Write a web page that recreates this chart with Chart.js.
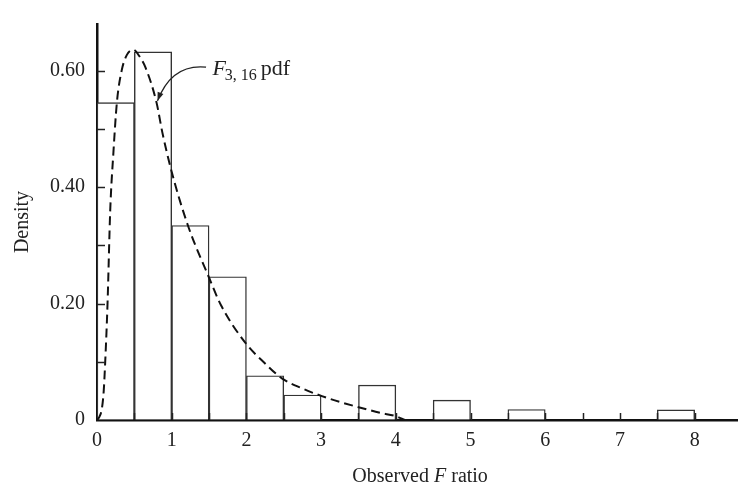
<!DOCTYPE html>
<html lang="en">
<head>
    <meta charset="UTF-8">
    <title>Observed F ratio histogram</title>
    <script src="https://cdn.jsdelivr.net/npm/chart.js"></script>
    <style>
        body { margin: 0; background: #fff; }
        #wrap { width: 741px; height: 489px; position: relative; }
    </style>
</head>
<body>
    <div id="wrap"><canvas id="fChart"></canvas></div>

    <script>
        // histogram bins (left edges, width 0.5) and their densities
        const binStarts = [0, 0.5, 1, 1.5, 2, 2.5, 3, 3.5, 4, 4.5, 5, 5.5, 6, 6.5, 7, 7.5];
        const densities = [0.545, 0.632, 0.334, 0.246, 0.076, 0.043, 0, 0.060, 0, 0.034, 0, 0.018, 0, 0, 0, 0.0175];

        // dashed F(3,16) pdf curve
        const curveX = [0, 0.03, 0.066, 0.09, 0.11, 0.141, 0.177, 0.22, 0.266, 0.33, 0.4, 0.486, 0.56, 0.65, 0.797, 0.876, 0.996, 1.217, 1.495, 1.66, 1.99, 2.25, 2.48, 2.75, 3.01, 3.25, 3.5, 3.8, 4.0, 4.12];
        const curveY = [0, 0.005, 0.02, 0.05, 0.1, 0.2, 0.36, 0.46, 0.545, 0.6, 0.627, 0.636, 0.626, 0.605, 0.545, 0.493, 0.428, 0.334, 0.246, 0.197, 0.132, 0.097, 0.071, 0.054, 0.041, 0.031, 0.022, 0.012, 0.0066, 0];

        const yLabels = ['0', '0.20', '0.40', '0.60'];
        const xLabels = ['0', '1', '2', '3', '4', '5', '6', '7', '8'];

        const serif = '"Liberation Serif", "DejaVu Serif", serif';
        const ink = '#222';
        Chart.defaults.font.family = serif;
        Chart.defaults.color = ink;

        const binWidth = 0.5;
        const barData = binStarts.map((s, i) => ({ x: s + binWidth / 2, y: densities[i] }));
        const curveData = curveX.map((x, i) => ({ x: x, y: curveY[i] }));

        // inward tick marks, the F-pdf annotation and the x title with italic F
        const extras = {
            id: 'extras',
            afterDraw(chart) {
                const ctx = chart.ctx;
                const xs = chart.scales.x, ys = chart.scales.y;
                const area = chart.chartArea;
                ctx.save();
                ctx.strokeStyle = ink;
                ctx.lineWidth = 1.5;
                ys.ticks.forEach(t => {
                    if (t.value === 0) return;
                    const py = Math.round(ys.getPixelForValue(t.value)) + 0.5;
                    ctx.beginPath(); ctx.moveTo(area.left, py); ctx.lineTo(area.left + 8, py); ctx.stroke();
                });
                xs.ticks.forEach(t => {
                    if (t.value === 0 || t.value > 8) return;
                    const px = Math.round(xs.getPixelForValue(t.value)) + 0.5;
                    ctx.beginPath(); ctx.moveTo(px, area.bottom); ctx.lineTo(px, area.bottom - 7); ctx.stroke();
                });

                // annotation text
                ctx.fillStyle = ink;
                ctx.textBaseline = 'alphabetic';
                ctx.textAlign = 'left';
                let tx = xs.getPixelForValue(1.545);
                const base = ys.getPixelForValue(0.593);
                ctx.font = 'italic 22px ' + serif;
                ctx.fillText('F', tx, base);
                tx += ctx.measureText('F').width - 1;
                ctx.font = '16px ' + serif;
                ctx.fillText('3, 16', tx, base + 5);
                tx += ctx.measureText('3, 16').width + 4;
                ctx.font = '22px ' + serif;
                ctx.fillText('pdf', tx, base);

                // curved arrow
                const ax0 = xs.getPixelForValue(1.46), ay0 = ys.getPixelForValue(0.606);
                const ax1 = xs.getPixelForValue(0.81), ay1 = ys.getPixelForValue(0.548);
                const cx = xs.getPixelForValue(1.0), cy = ys.getPixelForValue(0.612);
                ctx.lineWidth = 1.3;
                ctx.beginPath(); ctx.moveTo(ax0, ay0); ctx.quadraticCurveTo(cx, cy, ax1, ay1); ctx.stroke();
                const ang = Math.atan2(ay1 - cy, ax1 - cx);
                ctx.beginPath();
                ctx.moveTo(ax1, ay1);
                ctx.lineTo(ax1 - 9 * Math.cos(ang - 0.35), ay1 - 9 * Math.sin(ang - 0.35));
                ctx.lineTo(ax1 - 9 * Math.cos(ang + 0.35), ay1 - 9 * Math.sin(ang + 0.35));
                ctx.closePath(); ctx.fill();

                // x title: Observed F ratio
                const parts = [['Observed ', ''], ['F', 'italic '], [' ratio', '']];
                let total = 0;
                parts.forEach(p => { ctx.font = p[1] + '20px ' + serif; total += ctx.measureText(p[0]).width; });
                let px = (area.left + area.right) / 2 + 3 - total / 2;
                ctx.textBaseline = 'middle';
                parts.forEach(p => {
                    ctx.font = p[1] + '20px ' + serif;
                    ctx.fillText(p[0], px, 477);
                    px += ctx.measureText(p[0]).width;
                });
                ctx.restore();
            }
        };

        new Chart(document.getElementById('fChart'), {
            type: 'bar',
            data: {
                datasets: [{
                    type: 'line',
                    label: 'F(3,16) pdf',
                    data: curveData,
                    borderColor: '#111',
                    borderWidth: 2,
                    borderDash: [9, 5],
                    pointRadius: 0,
                    fill: false,
                    cubicInterpolationMode: 'monotone',
                    order: 0
                }, {
                    label: 'Density',
                    data: barData,
                    backgroundColor: '#fff',
                    borderColor: '#333',
                    borderWidth: 1.4,
                    barPercentage: 1,
                    categoryPercentage: 1,
                    grouped: false,
                    order: 1
                }]
            },
            options: {
                responsive: true,
                maintainAspectRatio: false,
                animation: false,
                layout: { padding: { top: 7, left: 0, right: 0, bottom: 0 } },
                plugins: {
                    legend: { display: false },
                    tooltip: { enabled: false }
                },
                scales: {
                    x: {
                        type: 'linear',
                        offset: false,
                        min: 0,
                        max: 8.57,
                        afterFit: s => { s.height = 69; },
                        border: { display: true, color: '#111', width: 2.5 },
                        grid: { drawOnChartArea: false, drawTicks: false },
                        ticks: {
                            stepSize: 0.5,
                            includeBounds: false,
                            autoSkip: false,
                            maxRotation: 0,
                            padding: 9,
                            font: { size: 20 },
                            callback: v => Number.isInteger(v) ? xLabels[v] : ''
                        }
                    },
                    y: {
                        min: 0,
                        max: 0.68,
                        afterFit: s => { s.width = 97; },
                        border: { display: true, color: '#111', width: 2.5 },
                        grid: { drawOnChartArea: false, drawTicks: false },
                        title: {
                            display: true,
                            text: 'Density',
                            font: { size: 20 },
                            padding: { top: 11, bottom: 0 }
                        },
                        ticks: {
                            stepSize: 0.1,
                            includeBounds: false,
                            autoSkip: false,
                            padding: 12,
                            font: { size: 20 },
                            callback: v => {
                                const k = Math.round(v * 10);
                                return k % 2 === 0 ? yLabels[k / 2] : '';
                            }
                        }
                    }
                }
            },
            plugins: [extras]
        });
    </script>
</body>
</html>
